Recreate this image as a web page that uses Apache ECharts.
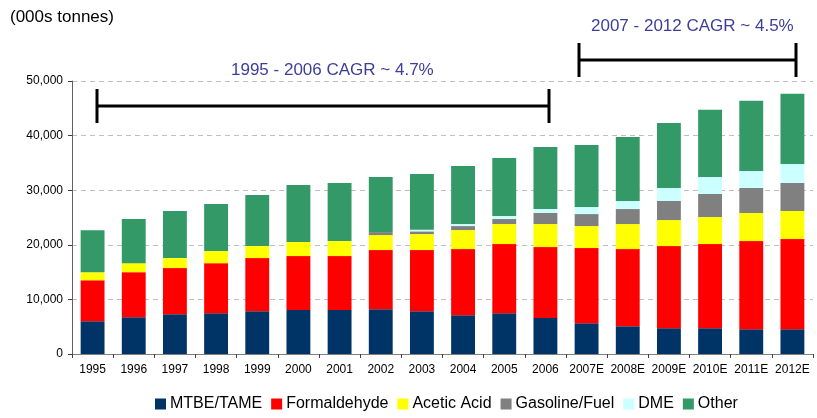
<!DOCTYPE html>
<html lang="en">
<head>
  <meta charset="UTF-8">
  <title>Methanol demand by end use</title>
  <style>
    html, body { margin: 0; padding: 0; background: #fff; }
    #main { width: 817px; height: 418px; }
  </style>
  <script src="https://cdn.jsdelivr.net/npm/echarts@6/dist/echarts.min.js"></script>
</head>
<body>
  <div id="main"></div>
  <script>
    // categories and stacked values (000s tonnes)
    var years = ['1995', '1996', '1997', '1998', '1999', '2000', '2001', '2002', '2003',
      '2004', '2005', '2006', '2007E', '2008E', '2009E', '2010E', '2011E', '2012E'];
    var mtbe = [6000, 6730, 7280, 7470, 7840, 8070, 8070, 8200, 7840, 7100, 7470, 6610, 5630, 5080, 4720, 4720, 4530, 4530];
    var formaldehyde = [7500, 8260, 8450, 9170, 9720, 9860, 9860, 10830, 11190, 12110, 12660, 12970, 13770, 14130, 15040, 15410, 16150, 16520];
    var aceticAcid = [1470, 1650, 1830, 2210, 2200, 2570, 2750, 2750, 2930, 3490, 3670, 4220, 4030, 4590, 4770, 4950, 5140, 5140];
    var gasoline = [0, 0, 0, 0, 0, 0, 0, 550, 500, 730, 920, 2020, 2200, 2750, 3490, 4220, 4590, 5130];
    var dme = [0, 0, 0, 0, 0, 0, 0, 0, 290, 370, 550, 730, 1290, 1470, 2390, 3120, 3110, 3490];
    var other = [7700, 8080, 8630, 8620, 9360, 10460, 10640, 10090, 10220, 10640, 10640, 11380, 11380, 11740, 11920, 12300, 12850, 12840];

    var yTicks = [0, 10000, 20000, 30000, 40000, 50000];

    var font = 'Liberation Sans, Arial, sans-serif';
    var cagrColor = '#3d3d9c';

    var chart = echarts.init(document.getElementById('main'));

    function bar(name, data, color) {
      return {
        name: name,
        type: 'bar',
        stack: 'total',
        barCategoryGap: '42%',
        itemStyle: { color: color },
        emphasis: { disabled: true },
        data: data
      };
    }

    var option = {
      animation: false,
      textStyle: { fontFamily: font },
      grid: { left: 72, right: 4, top: 81, bottom: 64 },
      legend: {
        bottom: 1,
        left: 150,
        itemWidth: 11,
        itemHeight: 11,
        itemGap: 9,
        icon: 'rect',
        textStyle: { fontSize: 16, color: '#000', fontFamily: font, padding: [0, 0, 0, -1] },
        data: ['MTBE/TAME', 'Formaldehyde', 'Acetic Acid', 'Gasoline/Fuel', 'DME', 'Other']
      },
      xAxis: {
        type: 'category',
        data: years,
        axisLine: { lineStyle: { color: '#808080', width: 1 } },
        axisTick: { show: true, length: 4, inside: false, lineStyle: { color: '#404040' } },
        axisLabel: { fontSize: 12, color: '#000', margin: 10, interval: 0 }
      },
      yAxis: {
        type: 'value',
        min: yTicks[0],
        max: yTicks[yTicks.length - 1],
        interval: yTicks[1] - yTicks[0],
        axisLine: { show: true, lineStyle: { color: '#606060' } },
        axisTick: { show: true, length: 4, lineStyle: { color: '#404040' } },
        axisLabel: {
          fontSize: 12, color: '#000', margin: 9,
          formatter: function (v) { return v.toLocaleString('en-US'); }
        },
        splitLine: { show: true, lineStyle: { color: '#bfbfbf', type: [5, 4], width: 1 } }
      },
      graphic: [
        { type: 'text', left: 10, top: 9, style: { text: '(000s tonnes)', font: '17px ' + font, fill: '#000' } },
        // CAGR annotations
        { type: 'text', left: 231, top: 62, style: { text: '1995 - 2006 CAGR ~ 4.7%', font: '17px ' + font, fill: cagrColor } },
        { type: 'text', left: 591, top: 18, style: { text: '2007 - 2012 CAGR ~ 4.5%', font: '17px ' + font, fill: cagrColor } },
        { type: 'line', shape: { x1: 97, y1: 106, x2: 549, y2: 106 }, style: { stroke: '#000', lineWidth: 3 } },
        { type: 'line', shape: { x1: 97, y1: 89, x2: 97, y2: 123 }, style: { stroke: '#000', lineWidth: 3 } },
        { type: 'line', shape: { x1: 549, y1: 89, x2: 549, y2: 123 }, style: { stroke: '#000', lineWidth: 3 } },
        { type: 'line', shape: { x1: 579, y1: 60, x2: 796, y2: 60 }, style: { stroke: '#000', lineWidth: 3 } },
        { type: 'line', shape: { x1: 579, y1: 43, x2: 579, y2: 77 }, style: { stroke: '#000', lineWidth: 3 } },
        { type: 'line', shape: { x1: 796, y1: 43, x2: 796, y2: 77 }, style: { stroke: '#000', lineWidth: 3 } }
      ],
      series: [
        bar('MTBE/TAME', mtbe, '#003366'),
        bar('Formaldehyde', formaldehyde, '#ff0000'),
        bar('Acetic Acid', aceticAcid, '#ffff00'),
        bar('Gasoline/Fuel', gasoline, '#808080'),
        bar('DME', dme, '#ccffff'),
        bar('Other', other, '#339966')
      ]
    };

    chart.setOption(option);
  </script>
</body>
</html>
